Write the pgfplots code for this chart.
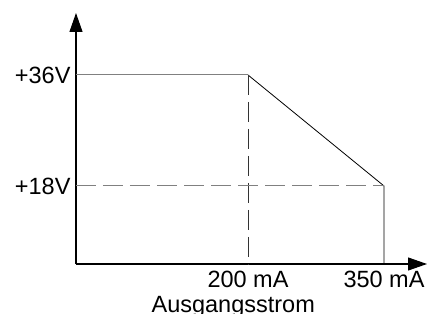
\documentclass[border=0pt]{standalone}
\usepackage{fontspec}
\setmainfont{Liberation Sans}
\usepackage{pgfplots}
\pgfplotsset{compat=1.18}
\usetikzlibrary{arrows.meta}
\newcommand{\lbl}{\fontsize{23.5bp}{26bp}\selectfont}
\begin{document}
\begin{tikzpicture}
\path[use as bounding box] (-76bp,-50bp) rectangle (352bp,264bp);
\begin{axis}[
  at={(0,0)}, anchor=south west,
  scale only axis,
  width=351bp, height=251bp,
  xmin=10.3, xmax=397.4,
  ymin=5.35, ymax=46.05,
  axis lines=left,
  axis line style={line width=1.1bp, -{Triangle[length=19bp,width=13bp]}},
  xtick={200,350}, xticklabels={{\lbl 200 mA},{\lbl 350 mA}},
  ytick={18,36}, yticklabels={{\lbl +18V},{\lbl +36V}},
  major tick length=0pt,
  xticklabel style={yshift=-4bp},
  yticklabel style={xshift=-2bp},
  xlabel={\lbl Ausgangsstrom},
  xlabel style={at={(rel axis cs:0.448,0)}, anchor=north, yshift=-28.5bp},
  clip=false,
]
\addplot[gray, line width=1bp] coordinates {(10.3,36) (200,36)};
\addplot[black, line width=0.8bp] coordinates {(200,36) (350,18) (350,5.35)};
\addplot[black!80, line width=0.9bp, dash pattern=on 20bp off 7bp] coordinates {(200,36) (200,5.35)};
\addplot[gray, line width=1bp, dash pattern=on 20bp off 7bp] coordinates {(10.3,18) (350,18)};
\end{axis}
\end{tikzpicture}
\end{document}
